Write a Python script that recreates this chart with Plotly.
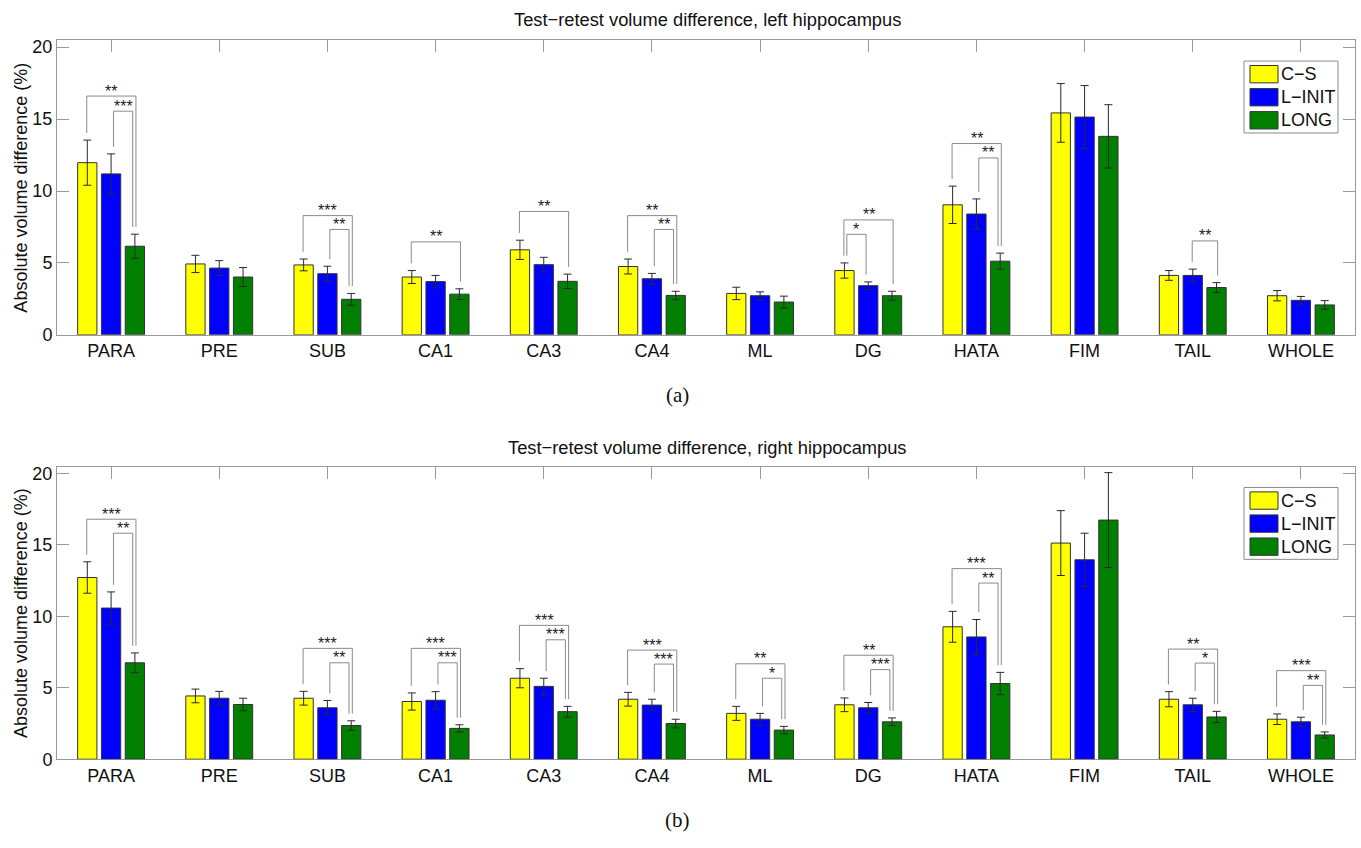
import plotly.graph_objects as go

categories = ["PARA", "PRE", "SUB", "CA1", "CA3", "CA4", "ML", "DG", "HATA", "FIM", "TAIL", "WHOLE"]
series_names = ["C−S", "L−INIT", "LONG"]
colors = ["#ffff00", "#0000ff", "#007f00"]
y_ticks = [0, 5, 10, 15, 20]

# Left hippocampus (a)
left_cs = [11.97, 4.93, 4.86, 4.02, 5.91, 4.75, 2.88, 4.47, 9.04, 15.43, 4.13, 2.72]
left_cs_err = [1.57, 0.60, 0.41, 0.45, 0.67, 0.52, 0.43, 0.53, 1.30, 2.04, 0.34, 0.36]
left_linit = [11.19, 4.64, 4.25, 3.70, 4.88, 3.90, 2.72, 3.42, 8.40, 15.14, 4.13, 2.40]
left_linit_err = [1.39, 0.52, 0.52, 0.43, 0.51, 0.37, 0.27, 0.26, 1.05, 2.19, 0.44, 0.27]
left_long = [6.16, 4.02, 2.47, 2.83, 3.72, 2.74, 2.28, 2.72, 5.12, 13.80, 3.29, 2.08]
left_long_err = [0.84, 0.66, 0.41, 0.37, 0.50, 0.29, 0.41, 0.31, 0.56, 2.20, 0.34, 0.30]

# Right hippocampus (b)
right_cs = [12.72, 4.43, 4.27, 4.04, 5.67, 4.20, 3.21, 3.81, 9.27, 15.13, 4.20, 2.80]
right_cs_err = [1.10, 0.48, 0.48, 0.60, 0.67, 0.48, 0.49, 0.48, 1.08, 2.27, 0.53, 0.37]
right_linit = [10.58, 4.27, 3.60, 4.13, 5.10, 3.79, 2.80, 3.60, 8.56, 13.96, 3.81, 2.62]
right_linit_err = [1.13, 0.48, 0.51, 0.60, 0.57, 0.41, 0.41, 0.37, 1.22, 1.86, 0.46, 0.32]
right_long = [6.75, 3.83, 2.36, 2.16, 3.33, 2.50, 2.04, 2.62, 5.30, 16.74, 2.96, 1.70]
right_long_err = [0.69, 0.44, 0.33, 0.25, 0.37, 0.30, 0.26, 0.27, 0.78, 3.32, 0.39, 0.21]

# significance brackets: (category index, from series, to series, bracket top, label, nesting level)
left_brackets = [
    (0, 0, 2, 16.6, "**", 0), (0, 1, 2, 15.55, "***", 1),
    (2, 0, 2, 8.29, "***", 0), (2, 1, 2, 7.33, "**", 1),
    (3, 0, 2, 6.46, "**", 0),
    (4, 0, 2, 8.58, "**", 0),
    (5, 0, 2, 8.29, "**", 0), (5, 1, 2, 7.33, "**", 1),
    (7, 0, 2, 7.99, "**", 0), (7, 0, 1, 6.99, "*", 1),
    (8, 0, 2, 13.3, "**", 0), (8, 1, 2, 12.3, "**", 1),
    (10, 1, 2, 6.53, "**", 0),
]
right_brackets = [
    (0, 0, 2, 16.8, "***", 0), (0, 1, 2, 15.82, "**", 1),
    (2, 0, 2, 7.76, "***", 0), (2, 1, 2, 6.75, "**", 1),
    (3, 0, 2, 7.76, "***", 0), (3, 1, 2, 6.75, "***", 1),
    (4, 0, 2, 9.37, "***", 0), (4, 1, 2, 8.36, "***", 1),
    (5, 0, 2, 7.64, "***", 0), (5, 1, 2, 6.66, "***", 1),
    (6, 0, 2, 6.68, "**", 0), (6, 1, 2, 5.67, "*", 1),
    (7, 0, 2, 7.28, "**", 0), (7, 1, 2, 6.27, "***", 1),
    (8, 0, 2, 13.34, "***", 0), (8, 1, 2, 12.33, "**", 1),
    (10, 0, 2, 7.71, "**", 0), (10, 1, 2, 6.73, "*", 1),
    (11, 0, 2, 6.2, "***", 0), (11, 1, 2, 5.17, "**", 1),
]

titles = ["Test−retest volume difference, left hippocampus",
          "Test−retest volume difference, right hippocampus"]
captions = ["(a)", "(b)"]
y_title = "Absolute volume difference (%)"

W, H = 1361, 848
def pxx(x):
    return x / W
def pyy(y):
    return 1 - y / H

FONT = "Liberation Sans, Arial, Helvetica, sans-serif"
AXC = "#9a9a9a"
BRC = "#8a8a8a"
slot = 0.22

fig = go.Figure()
x_idx = list(range(len(categories)))

panels = [
    dict(vals=[left_cs, left_linit, left_long], errs=[left_cs_err, left_linit_err, left_long_err],
         br=left_brackets, xa="x", ya="y", top=38, bot=337, title_y=17, cap_y=398, leg_top=59),
    dict(vals=[right_cs, right_linit, right_long], errs=[right_cs_err, right_linit_err, right_long_err],
         br=right_brackets, xa="x2", ya="y2", top=471, bot=768, title_y=451, cap_y=830, leg_top=492),
]

shapes = []
annotations = []
for p_i, p in enumerate(panels):
    for k in range(3):
        fig.add_trace(go.Bar(
            x=x_idx, y=p["vals"][k], name=series_names[k], xaxis=p["xa"], yaxis=p["ya"],
            marker=dict(color=colors[k], line=dict(color="#333333", width=1)),
            error_y=dict(type="data", array=p["errs"][k], color="#2a2a2a", thickness=1, width=4),
            showlegend=False, offsetgroup=str(k),
        ))
    # brackets
    for (ci, a, b, top, lab, lvl) in p["br"]:
        xa_c = ci + (a - 1) * slot
        xb_c = ci + (b - 1) * slot
        if lvl == 0:
            x1, x2 = xa_c - 0.005, xb_c + 0.01
        else:
            x1, x2 = xa_c + 0.022, xb_c - 0.02
        y1 = p["vals"][a][ci] + p["errs"][a][ci] + 0.5
        y2 = p["vals"][b][ci] + p["errs"][b][ci] + 0.5
        for (xx0, yy0, xx1, yy1) in [(x1, y1, x1, top), (x1, top, x2, top), (x2, top, x2, y2)]:
            shapes.append(dict(type="line", xref=p["xa"], yref=p["ya"], x0=xx0, y0=yy0, x1=xx1, y1=yy1,
                               line=dict(color=BRC, width=1)))
        annotations.append(dict(x=(x1 + x2) / 2, y=top, xref=p["xa"], yref=p["ya"], text=lab,
                                showarrow=False, yanchor="middle", yshift=5,
                                font=dict(family=FONT, size=16, color="#222")))
    # title
    annotations.append(dict(x=pxx(707), y=pyy(p["title_y"]), xref="paper", yref="paper", text=titles[p_i],
                            showarrow=False, xanchor="center", yanchor="middle",
                            font=dict(family=FONT, size=18.3, color="#111")))
    # y title
    annotations.append(dict(x=pxx(21), y=pyy((p["top"] + p["bot"]) / 2), xref="paper", yref="paper",
                            text=y_title, textangle=-90, showarrow=False, xanchor="center", yanchor="middle",
                            font=dict(family=FONT, size=18, color="#111")))
    # caption
    annotations.append(dict(x=pxx(677), y=pyy(p["cap_y"]), xref="paper", yref="paper", text=captions[p_i],
                            showarrow=False, xanchor="center", yanchor="middle",
                            font=dict(family="Liberation Serif, DejaVu Serif, serif", size=21, color="#111")))
    # legend
    lt = p["leg_top"]
    shapes.append(dict(type="rect", xref="paper", yref="paper", x0=pxx(1244), x1=pxx(1338),
                       y0=pyy(lt + 73), y1=pyy(lt), line=dict(color="#8a8a8a", width=1), fillcolor="white"))
    for k in range(3):
        r0 = lt + 4.5 + k * 23.4
        shapes.append(dict(type="rect", xref="paper", yref="paper", x0=pxx(1250), x1=pxx(1278),
                           y0=pyy(r0 + 17.6), y1=pyy(r0), line=dict(color="#333", width=1),
                           fillcolor=colors[k]))
        annotations.append(dict(x=pxx(1279), y=pyy(r0 + 9), xref="paper", yref="paper", text=series_names[k],
                                showarrow=False, xanchor="left", yanchor="middle",
                                font=dict(family=FONT, size=18, color="#111")))

def xaxis_cfg():
    return dict(domain=[pxx(57), pxx(1355)], range=[-0.5, len(categories) - 0.5],
                tickmode="array", tickvals=x_idx, ticktext=categories,
                showline=True, linecolor=AXC, linewidth=1, mirror="ticks",
                ticks="inside", ticklen=12, tickcolor=AXC, tickwidth=1,
                showgrid=False, zeroline=False, layer="below traces",
                tickfont=dict(family=FONT, size=18, color="#111"))

def yaxis_cfg(top, bot, anchor):
    return dict(domain=[pyy(bot), pyy(top)], range=[0, 20.47], anchor=anchor,
                tickmode="array", tickvals=y_ticks,
                showline=True, linecolor=AXC, linewidth=1, mirror="ticks",
                ticks="inside", ticklen=12, tickcolor=AXC, tickwidth=1,
                showgrid=False, zeroline=False, layer="below traces",
                tickfont=dict(family=FONT, size=18, color="#111"))

fig.update_layout(
    width=W, height=H, margin=dict(l=0, r=0, t=0, b=0),
    paper_bgcolor="white", plot_bgcolor="white",
    barmode="group", bargap=0.34, bargroupgap=0.19, showlegend=False,
    xaxis=dict(**xaxis_cfg(), anchor="y"),
    yaxis=yaxis_cfg(38, 337, "x"),
    xaxis2=dict(**xaxis_cfg(), anchor="y2"),
    yaxis2=yaxis_cfg(471, 768, "x2"),
    shapes=shapes, annotations=annotations,
)

fig.write_html("out.html")
